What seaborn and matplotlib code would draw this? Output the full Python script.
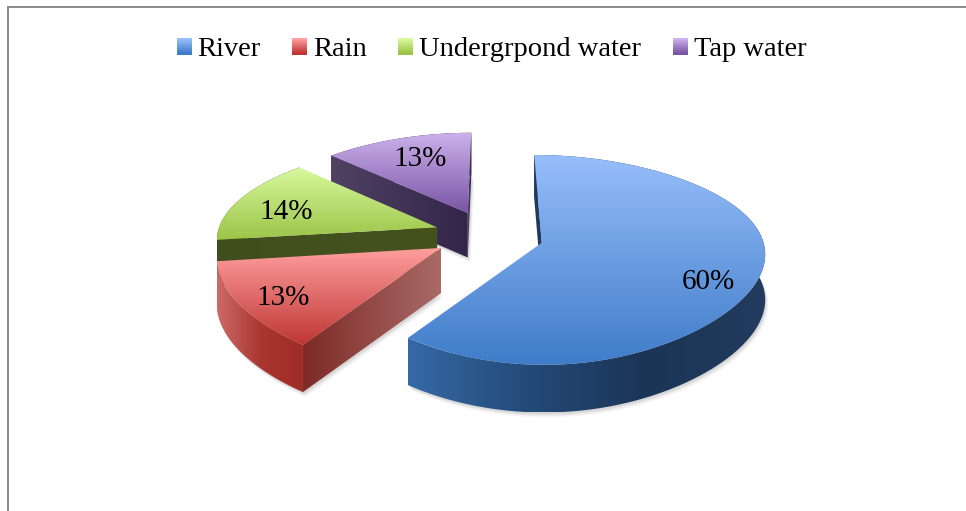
import numpy as np
import matplotlib
matplotlib.use("Agg")
import matplotlib.pyplot as plt
from matplotlib.patches import Polygon, Rectangle, Patch
from matplotlib.legend_handler import HandlerBase
import seaborn as sns

categories = ["River", "Rain", "Undergrpond water", "Tap water"]
shares = [60, 13, 14, 13]

sns.set_theme(style="white")
plt.rcParams["font.family"] = ["Liberation Serif", "DejaVu Serif"]

top_stops = [["#97BEFA", "#3F7CC9"], ["#FF9E9E", "#BE3633"], ["#D8F99E", "#9CC448"], ["#CCB2EC", "#7A54A4"]]
wall_stops = [["#3569A6", "#244A78", "#1B3556", "#223B5E"], ["#CC6B66", "#A93631", "#A02C28"],
              ["#4F6222", "#3F4E1C"], ["#33254A", "#33254A"]]
face_stops = [["#1F3A5F", "#1F3A5F"], ["#7E2A26", "#A96B68"], ["#3F4E1C", "#44531E"], ["#4F4262", "#33254A"]]
exp, k, a, b, u, v = 0.25, 0.161, 99.6, 220, 489, 235
kx1, kx2 = 0.1125, 0.0625
nudges = [(4, 15), (-8, 8), (-2, 6), (7, 4)]


def project(X, Y, drop=False):
    X, Y = np.asarray(X), np.asarray(Y)
    s = 1 + k * Y
    sx = 1 + kx1 * Y + kx2 * Y ** 2
    px = u + b * X / sx
    py = v - a * Y / s
    if drop:
        py = py + 45 / s ** 0.3
    return np.column_stack([px, py])


fig = plt.figure(figsize=(9.66, 5.11), dpi=100)
ax = fig.add_axes([0, 0, 1, 1])
ax.set_axis_off()


def gradient(poly, stops, vertical, z):
    """Fill a polygon with a blend of colours along its bounding box."""
    cmap = sns.blend_palette(stops, 256, as_cmap=True)
    x0, y0 = poly.min(axis=0)
    x1, y1 = poly.max(axis=0)
    ramp = np.linspace(0, 1, 256)
    ramp = ramp[:, None] if vertical else ramp[None, :]
    im = ax.imshow(ramp, cmap=cmap, extent=[x0, x1, y1, y0], origin="upper", aspect="auto", zorder=z,
                   interpolation="bilinear")
    patch = Polygon(poly, closed=True, transform=ax.transData, facecolor="none", edgecolor="none")
    ax.add_patch(patch)
    im.set_clip_path(patch)


def cross(p, q):
    return p[0] * q[1] - p[1] * q[0]


angles = np.cumsum([0] + shares) / np.sum(shares) * 2 * np.pi
z = 2
for i in [3, 2, 1, 0]:
    t0, t1 = angles[i], angles[i + 1]
    mid = (t0 + t1) / 2
    cx, cy = exp * np.sin(mid), exp * np.cos(mid)
    th = np.linspace(t0, t1, 240)
    ax_, ay_ = cx + np.sin(th), cy + np.cos(th)
    arc_top, arc_bot = project(ax_, ay_), project(ax_, ay_, True)
    apex_top, apex_bot = project([cx], [cy]), project([cx], [cy], True)
    top_poly = np.vstack([apex_top, arc_top])
    centre = top_poly.mean(axis=0)

    # soft shadow below the slice
    base = np.vstack([apex_bot, arc_bot])
    for off, al in [(5, 0.05), (3.5, 0.08), (2, 0.12)]:
        ax.add_patch(Polygon(base + [off * 0.6, off], closed=True, facecolor="#555555", edgecolor="none",
                             alpha=al, zorder=z))
    z += 1
    # outer wall
    gradient(np.vstack([arc_top, arc_bot[::-1]]), wall_stops[i], False, z)
    z += 1
    # radial faces, only those that turn towards the viewer
    for pt_top, pt_bot in ((arc_top[0], arc_bot[0]), (arc_top[-1], arc_bot[-1])):
        edge = pt_top - apex_top[0]
        if np.sign(cross(edge, [0, 1])) != np.sign(cross(edge, centre - apex_top[0])):
            gradient(np.vstack([apex_top, pt_top, pt_bot, apex_bot]), face_stops[i], False, z)
            z += 1
    # top surface
    gradient(top_poly, top_stops[i], True, z)
    z += 1
    # percentage label
    lx, ly = cx + 0.75 * np.sin(mid), cy + 0.75 * np.cos(mid)
    p = project([lx], [ly])[0]
    ax.text(p[0] + nudges[i][0], p[1] + nudges[i][1], f"{shares[i]}%", ha="center", va="center",
            fontsize=21, color="black", zorder=100)

ax.plot([8, 8, 966], [511, 7.5, 7.5], color="#8A8A8A", lw=1.4, zorder=1, solid_joinstyle="miter")


class GradientHandle(HandlerBase):
    def create_artists(self, legend, orig, xd, yd, w, h, fs, trans):
        cmap = sns.blend_palette(orig.stops, 8)
        n = len(cmap)
        return [Rectangle((-xd, -yd + h * (n - 1 - j) / n), w, h / n + 0.2, facecolor=c, edgecolor="none",
                          transform=trans) for j, c in enumerate(cmap)]


handles = []
for name, st in zip(categories, top_stops):
    pt = Patch(label=name)
    pt.stops = st
    handles.append(pt)
ax.legend(handles=handles, handler_map={Patch: GradientHandle()}, loc="center", bbox_to_anchor=(491.5 / 966, 1 - 50 / 511),
          ncol=4, frameon=False, fontsize=20.5, handlelength=0.53, handleheight=0.53, handletextpad=0.21,
          columnspacing=1.1, labelcolor="black", borderpad=0)

ax.set_xlim(0, 966)
ax.set_ylim(511, 0)
fig.savefig("out.png", dpi=100, facecolor="white")
